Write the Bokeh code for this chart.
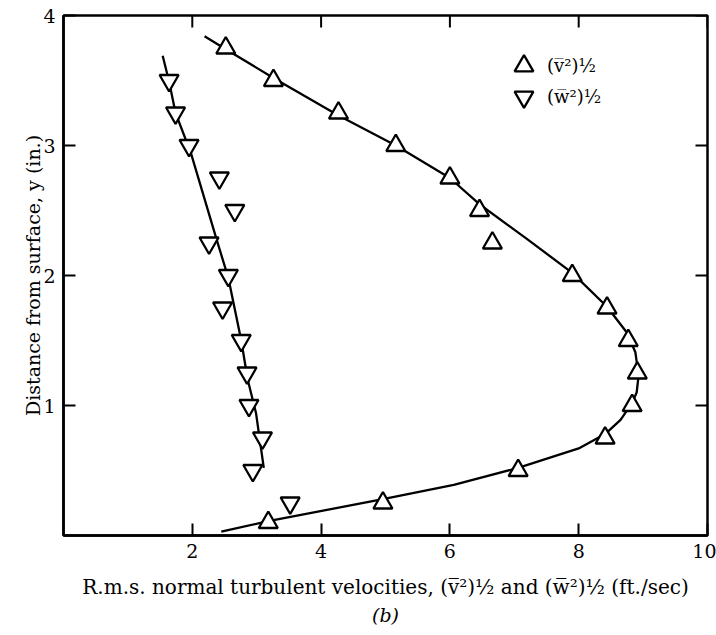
import math
from bokeh.plotting import figure
from bokeh.models import (LinearAxis, Legend, LegendItem, Label, Title,
                          FixedTicker, Range1d, ColumnDataSource)
from bokeh.embed import file_html
from bokeh.resources import INLINE

# --- data -------------------------------------------------------------
v_x = [2.52, 3.26, 4.27, 5.16, 6.0, 6.46, 6.66, 7.9, 8.44, 8.77, 8.91, 8.83, 8.41, 7.06, 4.96, 3.18]
v_y = [3.75, 3.5, 3.25, 3.0, 2.75, 2.5, 2.25, 2.0, 1.75, 1.5, 1.25, 1.0, 0.75, 0.5, 0.25, 0.1]

w_x = [1.64, 1.74, 1.95, 2.42, 2.66, 2.26, 2.56, 2.47, 2.76, 2.85, 2.88, 3.09, 2.94, 3.52]
w_y = [3.5, 3.25, 3.0, 2.75, 2.5, 2.25, 2.0, 1.75, 1.5, 1.25, 1.0, 0.75, 0.5, 0.25]

v_curve_x = [2.19, 2.52, 3.26, 4.27, 5.16, 6.0, 6.48, 7.2, 7.9, 8.44, 8.75, 8.88, 8.93,
             8.9, 8.83, 8.65, 8.41, 8.0, 7.06, 6.06, 4.96, 3.18, 2.45]
v_curve_y = [3.84, 3.74, 3.52, 3.23, 3.0, 2.75, 2.54, 2.28, 2.02, 1.76, 1.56, 1.41, 1.23,
             1.1, 1.02, 0.89, 0.78, 0.67, 0.52, 0.39, 0.28, 0.11, 0.03]

w_curve_x = [1.54, 1.64, 1.74, 1.98, 2.37, 2.56, 2.76, 2.86, 2.99, 3.11]
w_curve_y = [3.69, 3.49, 3.25, 2.94, 2.29, 1.98, 1.5, 1.2, 0.94, 0.52]

x_ticks = [2, 4, 6, 8, 10]
y_ticks = [1, 2, 3, 4]

v_label = "(v\u0305\u00b2)\u00bd"
w_label = "(w\u0305\u00b2)\u00bd"
x_title = "R.m.s. normal turbulent velocities, (v\u0305\u00b2)\u00bd and (w\u0305\u00b2)\u00bd (ft./sec)"
y_title = "Distance from surface, y (in.)"

FONT = "DejaVu Serif"

p = figure(width=716, height=635, x_range=Range1d(0, 10), y_range=Range1d(0, 4),
           output_backend="svg", toolbar_location=None,
           min_border_left=63, min_border_right=9, min_border_top=15, min_border_bottom=100,
           x_axis_location=None, y_axis_location=None)
p.xgrid.visible = False
p.ygrid.visible = False
p.outline_line_color = "black"
p.outline_line_width = 2.5
p.background_fill_color = "white"
p.border_fill_color = "white"


def style_axis(ax, ticks):
    ax.ticker = FixedTicker(ticks=ticks)
    ax.major_tick_in = 12
    ax.major_tick_out = 0
    ax.minor_tick_line_color = None
    ax.major_tick_line_width = 2
    ax.major_tick_line_color = "black"
    ax.axis_line_color = "black"
    ax.axis_line_width = 2.5
    ax.major_label_text_font = FONT
    ax.major_label_text_font_size = "19px"
    ax.major_label_text_color = "black"


xb = LinearAxis()
style_axis(xb, x_ticks)
xb.major_label_standoff = 8
xb.axis_label = x_title
xb.axis_label_text_font = FONT
xb.axis_label_text_font_style = "normal"
xb.axis_label_text_font_size = "20px"
xb.axis_label_text_color = "black"
xb.axis_label_standoff = 14
p.add_layout(xb, "below")

yl = LinearAxis()
style_axis(yl, y_ticks)
yl.major_label_standoff = 8
yl.axis_label = y_title
yl.axis_label_text_font = FONT
yl.axis_label_text_font_style = "normal"
yl.axis_label_text_font_size = "19px"
yl.axis_label_text_color = "black"
yl.axis_label_standoff = -4
p.add_layout(yl, "left")

# inward ticks mirrored on the top and right edges (clipped to the frame)
p.scatter(x=x_ticks, y=[p.y_range.end] * len(x_ticks), marker="dash", angle=math.pi / 2,
          size=24, line_color="black", line_width=2)
p.scatter(x=[p.x_range.end] * len(y_ticks), y=y_ticks, marker="dash",
          size=24, line_color="black", line_width=2)

p.add_layout(Label(x=0, y=0, text="0", x_offset=-15, y_offset=-19,
                   text_align="center", text_baseline="middle",
                   text_font=FONT, text_font_size="19px", text_color="black"))

p.add_layout(Title(text="(b)", align="center", text_font=FONT, text_font_size="19px",
                   text_font_style="italic", text_color="black", standoff=0), "below")

# curves
p.line(v_curve_x, v_curve_y, line_color="black", line_width=2.3)
p.line(w_curve_x, w_curve_y, line_color="black", line_width=2.3)

# points
vs = ColumnDataSource(dict(x=v_x, y=v_y))
ws = ColumnDataSource(dict(x=w_x, y=w_y))
rv = p.scatter("x", "y", source=vs, marker="triangle", size=19, fill_color="white",
               line_color="black", line_width=2.3)
rw = p.scatter("x", "y", source=ws, marker="inverted_triangle", size=19, fill_color="white",
               line_color="black", line_width=2.3)

common = dict(border_line_alpha=0, background_fill_alpha=0,
              label_text_font=FONT, label_text_font_size="18px", label_text_color="black",
              glyph_width=47, glyph_height=47, label_height=47, spacing=0,
              padding=0, label_standoff=0, margin=0)
p.add_layout(Legend(items=[LegendItem(label=v_label, renderers=[rv])],
                    location=(437, 446), **common))
p.add_layout(Legend(items=[LegendItem(label=w_label, renderers=[rw])],
                    location=(437, 415), **common))

open("out.html", "w").write(file_html(p, INLINE))
